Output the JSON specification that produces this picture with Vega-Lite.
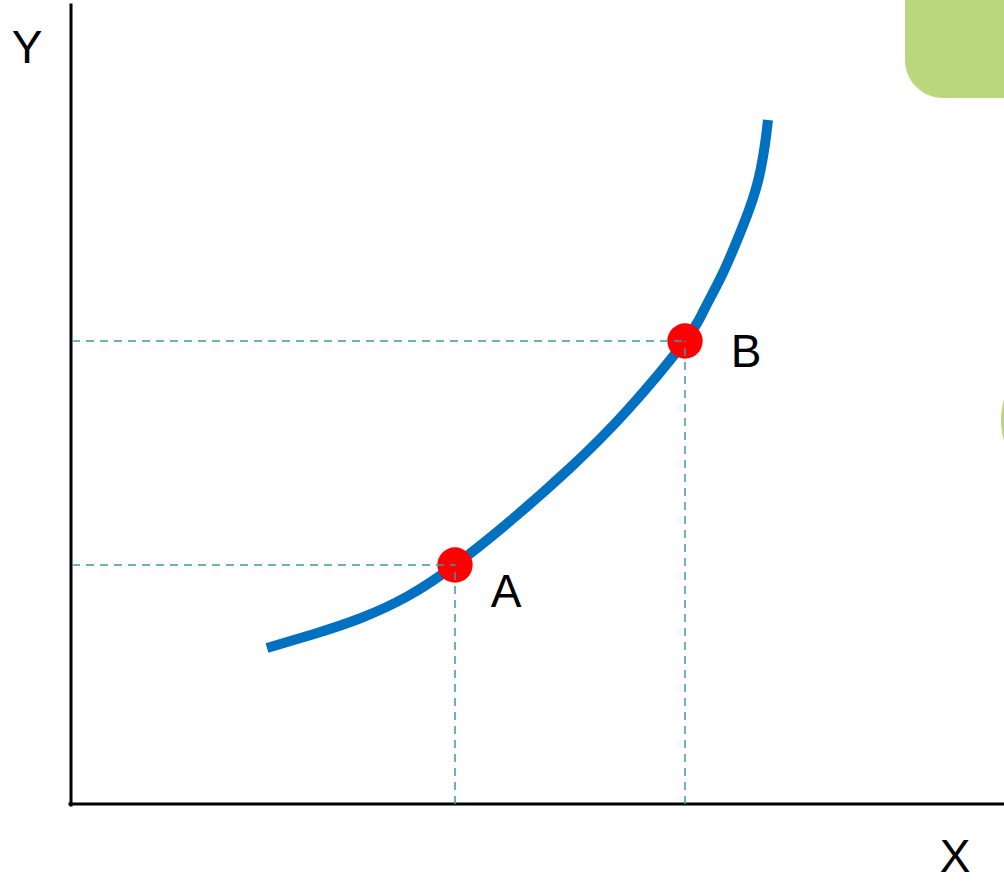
{
  "$schema": "https://vega.github.io/schema/vega-lite/v6.json",
  "width": 1004,
  "height": 882,
  "autosize": {"type": "none"},
  "padding": 0,
  "background": "white",
  "config": {"view": {"stroke": null}},
  "datasets": {
    "curve": [
      {"x": 197, "y": 156}, {"x": 244, "y": 170}, {"x": 291, "y": 186},
      {"x": 338, "y": 208}, {"x": 385, "y": 239}, {"x": 442.5, "y": 285},
      {"x": 500, "y": 336}, {"x": 557.5, "y": 394}, {"x": 615, "y": 463},
      {"x": 634, "y": 494}, {"x": 651, "y": 527}, {"x": 666, "y": 561},
      {"x": 679, "y": 594}, {"x": 689, "y": 627}, {"x": 695, "y": 660},
      {"x": 698, "y": 684}
    ],
    "points": [
      {"x": 385, "y": 239, "label": "A"},
      {"x": 615, "y": 463, "label": "B"}
    ],
    "labels": [
      {"x": 436, "y": 197, "label": "A"},
      {"x": 676, "y": 437, "label": "B"},
      {"x": -43, "y": 741, "label": "Y"},
      {"x": 885, "y": -68, "label": "X"}
    ],
    "guides": [
      {"x": 2, "x2": 385, "y": 239, "y2": 239},
      {"x": 385, "x2": 385, "y": 0, "y2": 239},
      {"x": 2, "x2": 615, "y": 463, "y2": 463},
      {"x": 615, "x2": 615, "y": 0, "y2": 463}
    ],
    "axes": [
      {"x": 1, "x2": 1, "y": -1, "y2": 799},
      {"x": 0, "x2": 934, "y": 0, "y2": 0}
    ],
    "box": [
      {"x": 835, "x2": 1000, "y": 706, "y2": 900}
    ],
    "blob": [
      {"x": 931, "x2": 1075, "y": 312, "y2": 456}
    ]
  },
  "encoding": {
    "x": {"field": "x", "type": "quantitative", "scale": {"domain": [-70, 934], "nice": false, "zero": false}, "axis": null},
    "y": {"field": "y", "type": "quantitative", "scale": {"domain": [-78, 804], "nice": false, "zero": false}, "axis": null}
  },
  "layer": [
    {
      "data": {"name": "axes"},
      "mark": {"type": "rule", "color": "black", "strokeWidth": 3, "strokeCap": "square"},
      "encoding": {"x2": {"field": "x2"}, "y2": {"field": "y2"}}
    },
    {
      "data": {"name": "curve"},
      "mark": {"type": "line", "color": "#0070C0", "strokeWidth": 10, "interpolate": "natural", "strokeCap": "butt"},
      "encoding": {}
    },
    {
      "data": {"name": "points"},
      "mark": {"type": "circle", "color": "#FF0000", "opacity": 1, "size": 1250},
      "encoding": {}
    },
    {
      "data": {"name": "guides"},
      "mark": {"type": "rule", "color": "#3F96A8", "strokeWidth": 1.5, "strokeDash": [8, 6]},
      "encoding": {"x2": {"field": "x2"}, "y2": {"field": "y2"}}
    },
    {
      "data": {"name": "labels"},
      "mark": {"type": "text", "font": "Liberation Sans", "fontSize": 46, "align": "center", "baseline": "alphabetic", "color": "black"},
      "encoding": {"text": {"field": "label", "type": "nominal"}}
    },
    {
      "data": {"name": "box"},
      "mark": {"type": "rect", "color": "#BBD77E", "cornerRadius": 38, "clip": true},
      "encoding": {"x2": {"field": "x2"}, "y2": {"field": "y2"}}
    },
    {
      "data": {"name": "blob"},
      "mark": {"type": "rect", "color": "#BBD77E", "cornerRadius": 72, "clip": true},
      "encoding": {"x2": {"field": "x2"}, "y2": {"field": "y2"}}
    }
  ]
}
